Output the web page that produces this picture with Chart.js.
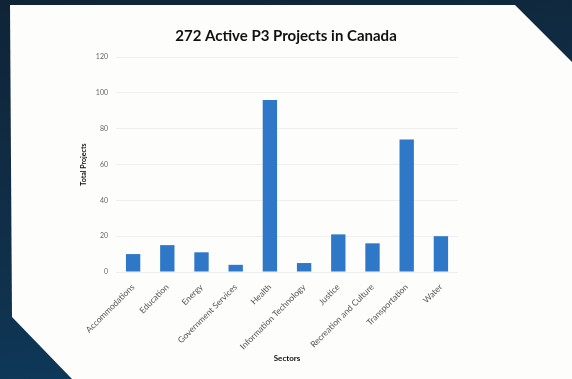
<!DOCTYPE html>
<html>
<head>
<meta charset="utf-8">
<script src="https://cdn.jsdelivr.net/npm/chart.js@4/dist/chart.umd.min.js"></script>
<style>
  html, body { margin: 0; padding: 0; width: 572px; height: 379px; overflow: hidden; }
  body { background: linear-gradient(170deg, #0f2437 0%, #10304a 55%, #0c3d63 100%); position: relative; }
  #card { position: absolute; left: 0; top: 0; width: 572px; height: 379px; background: #fdfdfb;
    clip-path: polygon(10px 5px, 515px 5px, 572px 62px, 572px 379px, 72px 379px, 12px 317px); }
  #wrap { position: absolute; left: 0; top: 0; width: 572px; height: 379px; }
</style>
</head>
<body>
<div id="card"></div>
<div id="wrap"><canvas id="c" width="572" height="379"></canvas></div>
<script>
const categories = ["Accommodations", "Education", "Energy", "Government Services", "Health",
  "Information Technology", "Justice", "Recreation and Culture", "Transportation", "Water"];
const totalProjects = [10, 15, 11, 4, 96, 5, 21, 16, 74, 20];
const yTicks = [0, 20, 40, 60, 80, 100, 120];

const centerTitle = {
  id: 'centerTitle',
  afterLayout(chart) {
    const t = chart.titleBlock;
    if (t) { t.left = 60; t.right = 512; t.width = 452; }
  }
};

new Chart(document.getElementById('c'), {
  type: 'bar',
  data: {
    labels: categories,
    datasets: [{
      label: 'Total Projects',
      data: totalProjects,
      backgroundColor: '#2f78c8',
      borderWidth: 0,
      barPercentage: 0.42,
      categoryPercentage: 1.0
    }]
  },
  plugins: [centerTitle],
  options: {
    responsive: false,
    animation: false,
    devicePixelRatio: 1,
    layout: { padding: { left: 76, right: 114, top: 0, bottom: 12 } },
    plugins: {
      legend: { display: false },
      tooltip: { enabled: false },
      title: {
        display: true,
        text: '272 Active P3 Projects in Canada',
        color: '#111',
        font: { family: 'Lato', size: 15, weight: 'bold' },
        padding: { top: 27, bottom: 12 }
      }
    },
    scales: {
      x: {
        grid: { display: false },
        border: { display: false },
        ticks: {
          color: '#555',
          font: { family: 'Lato', size: 8.5 },
          maxRotation: 45, minRotation: 45,
          padding: 2
        },
        title: {
          display: true, text: 'Sectors', color: '#111',
          font: { family: 'Lato', size: 8, weight: 'bold' }, padding: { top: 0 }
        },
        afterFit: (s) => { s.height = 95; }
      },
      y: {
        min: 0, max: 120,
        afterBuildTicks: (s) => { s.ticks = yTicks.map(v => ({ value: v })); },
        grid: { color: '#efefef', lineWidth: 1, drawTicks: false },
        border: { display: false },
        ticks: {
          color: '#666',
          font: { family: 'Lato', size: 7 },
          padding: 8
        },
        title: {
          display: true, text: 'Total Projects', color: '#111',
          font: { family: 'Lato', size: 7, weight: 'bold' }, padding: { bottom: 4 }
        },
        afterFit: (s) => { s.width = 40; }
      }
    }
  }
});
</script>
</body>
</html>
